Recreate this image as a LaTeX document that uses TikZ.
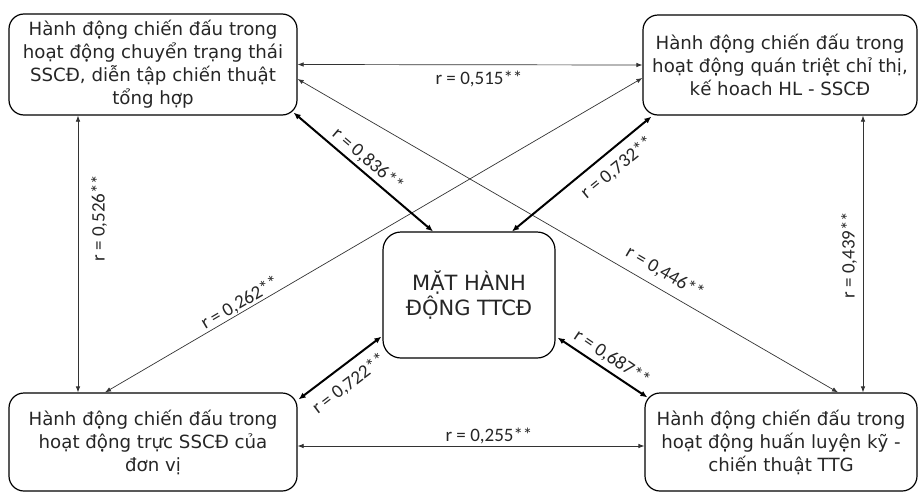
\documentclass[tikz,border=0pt]{standalone}
\usepackage{fontspec}
\setmainfont{DejaVu Sans}
\newfontfamily\labelfont{Carlito}
\usetikzlibrary{arrows.meta}

\begin{document}
\begin{tikzpicture}[x=1pt,y=-1pt,
  box/.style={draw, line width=1.2pt, rounded corners=15pt, align=center,
    inner sep=0pt, text=black!85,
    font=\fontsize{18.2}{23}\selectfont},
  thinlink/.style={line width=0.7pt, black!80, {Latex[length=6pt,width=4.5pt]}-{Latex[length=6pt,width=4.5pt]}},
  boldlink/.style={line width=2pt, {Latex[length=7pt,width=6pt]}-{Latex[length=7pt,width=6pt]}},
  rlab/.style={font=\labelfont\fontsize{19}{19}\selectfont, text=black!85, inner sep=1pt}]

\useasboundingbox (0,0) rectangle (921,493);

% the five boxes
\node[box, minimum width=288pt, minimum height=101pt] (tl) at (153,64.5)
  {Hành động chiến đấu trong\\hoạt động chuyển trạng thái\\SSCĐ, diễn tập chiến thuật\\tổng hợp};
\node[box, minimum width=274pt, minimum height=100pt] (tr) at (780,65)
  {Hành động chiến đấu trong\\hoạt động quán triệt chỉ thị,\\kế hoach HL - SSCĐ};
\node[box, minimum width=288pt, minimum height=98pt] (bl) at (153,442)
  {Hành động chiến đấu trong\\hoạt động trực SSCĐ của\\đơn vị};
\node[box, minimum width=272pt, minimum height=98pt] (br) at (781,442)
  {Hành động chiến đấu trong\\hoạt động huấn luyện kỹ -\\chiến thuật TTG};
\node[box, rounded corners=18pt, minimum width=172pt, minimum height=126pt,
  font=\fontsize{21}{23}\selectfont] (mid) at (469,295)
  {MẶT HÀNH\\ĐỘNG TTCĐ};

% links between the outer boxes
\draw[thinlink] (tl.east) -- (tr.west);
\draw[thinlink] ([xshift=-75pt]tl.south) -- ([xshift=-75pt]bl.north);
\draw[thinlink] ([xshift=83pt]tr.south) -- ([xshift=82pt]br.north);
\draw[thinlink] ([yshift=-4pt]bl.east) -- ([yshift=-4pt]br.west);
\draw[thinlink] ([yshift=-14.5pt]tl.east) -- ([xshift=57pt]br.north);
\draw[thinlink] ([yshift=-13pt]tr.west) -- ([xshift=-48pt]bl.north);

% links to the central box
\draw[boldlink] ([xshift=-4pt,yshift=3pt]tl.south east) -- ([xshift=-36pt]mid.north);
\draw[boldlink] ([xshift=9pt,yshift=-1pt]tr.south west) -- ([xshift=43pt]mid.north);
\draw[boldlink] ([xshift=1pt,yshift=-7pt]bl.north east) -- ([xshift=-1pt,yshift=22pt]mid.south west);
\draw[boldlink] ([xshift=3pt,yshift=-5pt]br.north west) -- ([xshift=2pt,yshift=21pt]mid.south east);

% correlation labels
\node[rlab] (l515) at (479,79) {r = 0,515**};
\node[rlab] (l255) at (489,436) {r = 0,255**};
\node[rlab, rotate=90] (l526) at (99,218) {r = 0,526**};
\node[rlab, rotate=90] (l439) at (849,255) {r = 0,439**};
\node[rlab, rotate=-40.6] (l836) at (368,160) {r = 0,836**};
\node[rlab, rotate=39] (l732) at (617,168) {r = 0,732**};
\node[rlab, rotate=37.3] (l722) at (349,384) {r = 0,722**};
\node[rlab, rotate=-34] (l687) at (612,358) {r = 0,687**};
\node[rlab, rotate=-30.3] (l446) at (665,273) {r = 0,446**};
\node[rlab, rotate=30.3] (l262) at (240,303) {r = 0,262**};
\end{tikzpicture}
\end{document}
